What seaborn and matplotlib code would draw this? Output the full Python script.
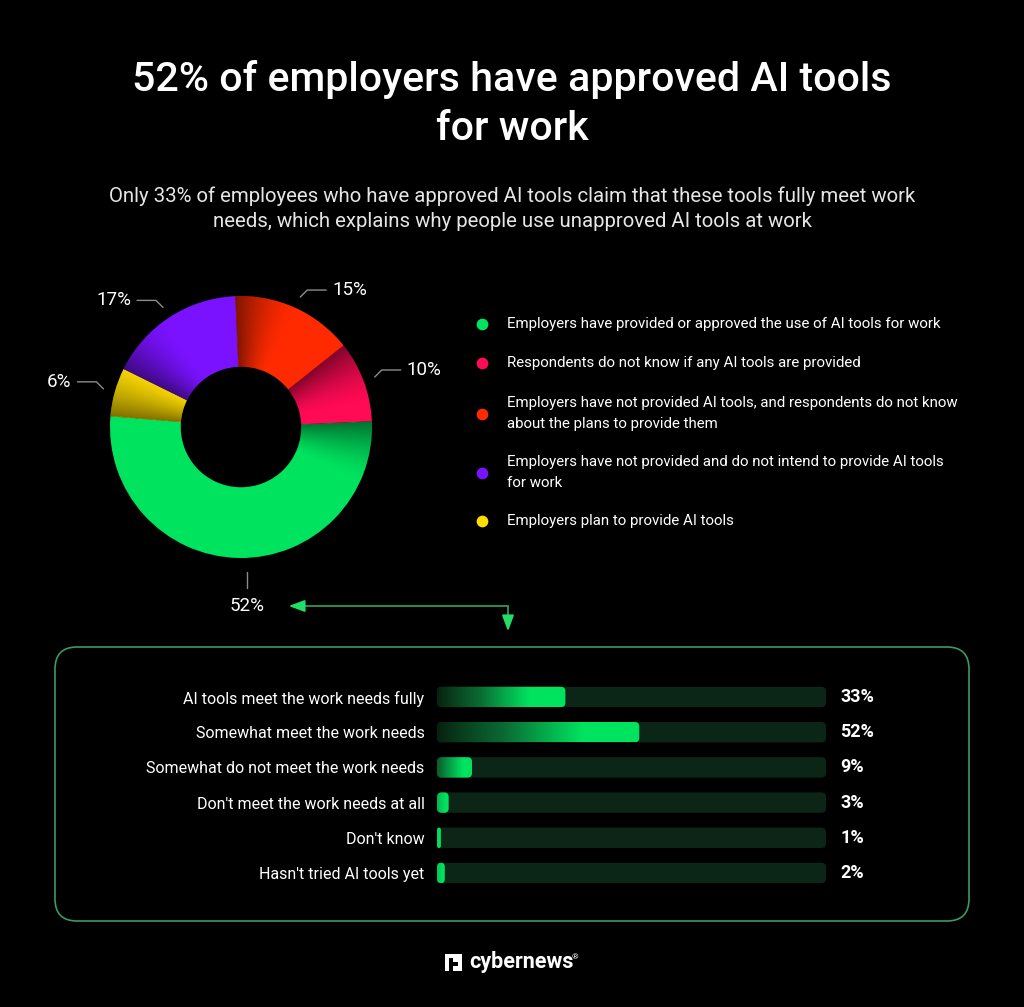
import numpy as np
import matplotlib
matplotlib.use("Agg")
import matplotlib.pyplot as plt
import seaborn as sns
from matplotlib.patches import FancyBboxPatch
from matplotlib.colors import LinearSegmentedColormap

# ---------------- data ----------------
title = "52% of employers have approved AI tools\nfor work"
subtitle = ("Only 33% of employees who have approved AI tools claim that these tools fully meet work\n"
            "needs, which explains why people use unapproved AI tools at work")

pie_labels = [
    "Employers have provided or approved the use of AI tools for work",
    "Employers plan to provide AI tools",
    "Employers have not provided and do not intend to provide AI tools\nfor work",
    "Employers have not provided AI tools, and respondents do not know\nabout the plans to provide them",
    "Respondents do not know if any AI tools are provided",
]
pie_values = [52, 6, 17, 15, 10]
pie_colors = ["#00E35F", "#FFDD00", "#7A12FF", "#FF2A00", "#FF0A55"]

legend_order = [0, 4, 3, 2, 1]

bar_labels = [
    "AI tools meet the work needs fully",
    "Somewhat meet the work needs",
    "Somewhat do not meet the work needs",
    "Don't meet the work needs at all",
    "Don't know",
    "Hasn't tried AI tools yet",
]
bar_values = [33, 52, 9, 3, 1, 2]

# ---------------- figure ----------------
sns.set_theme(style="dark")
plt.rcParams["font.family"] = ["Roboto", "DejaVu Sans"]
W, H = 1024, 1007
fig = plt.figure(figsize=(W / 100, H / 100), dpi=100, facecolor="black")

# overlay axes in pixel coordinates
ov = fig.add_axes([0, 0, 1, 1], zorder=0)
ov.set_xlim(0, W)
ov.set_ylim(H, 0)
ov.axis("off")
ov.patch.set_alpha(0)

ov.text(512, 104, title, ha="center", va="center", color="white",
        fontsize=29.6, fontweight="medium", linespacing=1.38)
ov.text(512, 208.5, subtitle, ha="center", va="center", color="#E6E6E6",
        fontsize=14.7, linespacing=1.42)

# ---------------- donut ----------------
cx, cy, R = 241, 427, 131
half = 150
pax = fig.add_axes([(cx - half) / W, (H - cy - half) / H, 2 * half / W, 2 * half / H], zorder=2)
wedges, _ = pax.pie(pie_values, colors=pie_colors, startangle=2.5, counterclock=False,
                    radius=1, wedgeprops=dict(width=0.54, linewidth=0))
lim = half / R
pax.set_xlim(-lim, lim)
pax.set_ylim(-lim, lim)
pax.set_aspect("equal")
pax.axis("off")
pax.patch.set_alpha(0)

# shading along the start edge of each wedge
n = 500
gx, gy = np.meshgrid(np.linspace(-1, 1, n), np.linspace(1, -1, n))
ang = np.degrees(np.arctan2(gy, gx))
for w in wedges:
    d = (w.theta2 - ang) % 360
    alpha = np.clip(1 - d / 28.0, 0, 1) ** 1.6 * 0.5
    rgba = np.zeros((n, n, 4))
    rgba[..., 3] = alpha
    im = pax.imshow(rgba, extent=(-1, 1, -1, 1), zorder=3, interpolation="bilinear")
    im.set_clip_path(w)

line_col = "#8C8C8C"
u = 1.0 / R
for w, v in zip(wedges, pie_values):
    mid = np.deg2rad((w.theta1 + w.theta2) / 2)
    c, s = np.cos(mid), np.sin(mid)
    if abs(c) < 0.25:
        pax.plot([6 * u, 6 * u], [-145 * u, -161 * u], color=line_col, lw=1, clip_on=False)
        pax.text(6 * u, -179 * u, f"{v}%", ha="center", va="center", color="white",
                 fontsize=13.5, clip_on=False)
    else:
        sign = 1 if c > 0 else -1
        p0 = np.array([1.09 * c, 1.09 * s])
        p1 = p0 + np.array([sign * 7 * u, 7 * u])
        p2 = p1 + np.array([sign * 19 * u, 0])
        pax.plot([p0[0], p1[0], p2[0]], [p0[1], p1[1], p2[1]], color=line_col, lw=1,
                 clip_on=False)
        pax.text(p2[0] + sign * 6 * u, p2[1], f"{v}%", ha="left" if sign > 0 else "right",
                 va="center", color="white", fontsize=13.5, clip_on=False)

# ---------------- legend ----------------
leg_y = [324, 363, 413.5, 472.5, 521]
for yy, idx in zip(leg_y, legend_order):
    ov.scatter([482], [yy], s=55, color=pie_colors[idx], zorder=3)
    ov.text(507, yy, pie_labels[idx], ha="left", va="center", color="white",
            fontsize=10.8, linespacing=1.72)

# ---------------- arrows ----------------
arrow_line = "#2F9657"
arrow_head = "#22DD66"
ov.plot([508, 508], [606, 620], color=arrow_line, lw=1.3)
ov.plot([300, 508], [606, 606], color=arrow_line, lw=1.3)
ov.annotate("", xy=(286, 606), xytext=(302, 606),
            arrowprops=dict(arrowstyle="-|>,head_length=0.8,head_width=0.3", color=arrow_head, lw=1.3))
ov.annotate("", xy=(508, 634), xytext=(508, 618),
            arrowprops=dict(arrowstyle="-|>,head_length=0.8,head_width=0.3", color=arrow_head, lw=1.3))

# ---------------- box ----------------
box = FancyBboxPatch((55, 647), 914, 274, boxstyle="round,pad=0,rounding_size=22",
                     facecolor="none", edgecolor="#3C9A5F", lw=1.2)
ov.add_patch(box)

# ---------------- bars ----------------
step = 35.2
bx0, bx1 = 437, 826
top = 697.0 - step / 2
nb = len(bar_labels)
bax = fig.add_axes([bx0 / W, (H - (top + nb * step)) / H, (bx1 - bx0) / W, nb * step / H], zorder=3)
bax.patch.set_alpha(0)
bar_h = 0.58

# track
sns.barplot(x=[100] * nb, y=bar_labels, orient="h", color="#0B2616", width=bar_h,
            ax=bax, saturation=1)
nt = len(bax.patches)
sns.barplot(x=bar_values, y=bar_labels, orient="h", color="#00E35F", width=bar_h,
            ax=bax, saturation=1)
bax.set_xlim(0, 100)
bax.set_ylim(nb - 0.5, -0.5)

px_per_x = (bx1 - bx0) / 100
px_per_y = step
rad_px = 4.5
cmap = LinearSegmentedColormap.from_list("g", ["#07200F", "#0A6B33", "#00E35F"])

patches = list(bax.patches)
for i, p in enumerate(patches):
    x, y = p.get_x(), p.get_y()
    w, h = p.get_width(), p.get_height()
    rs = min(rad_px / px_per_x, w / 2)
    fb = FancyBboxPatch((x, y), w, h, boxstyle=f"round,pad=0,rounding_size={rs}",
                        mutation_aspect=px_per_x / px_per_y, linewidth=0,
                        facecolor=p.get_facecolor() if i < nt else "none")
    p.set_visible(False)
    bax.add_patch(fb)
    if i >= nt:
        val = w
        frac = min(1.0, val / 15.0)
        grad = np.linspace(0, 1, 512)
        start = 1 - frac
        g = start + (1 - start) * np.clip(grad / 0.72, 0, 1) ** 0.9
        im = bax.imshow(g[np.newaxis, :], cmap=cmap, vmin=0, vmax=1, aspect="auto",
                        extent=(x, x + w, y + h, y), zorder=3, interpolation="bilinear")
        im.set_clip_path(fb)

bax.set_xlabel("")
bax.set_ylabel("")
bax.set_xticks([])
bax.tick_params(axis="y", length=0, pad=9, labelsize=11.5, labelcolor="white")
for sp in bax.spines.values():
    sp.set_visible(False)
bax.grid(False)

for i, v in enumerate(bar_values):
    bax.text(103.6, i, f"{v}%", ha="left", va="center", color="white",
             fontsize=13, fontweight="bold", clip_on=False)

# ---------------- logo ----------------
ov.add_patch(FancyBboxPatch((445, 954), 17, 17, boxstyle="square,pad=0", facecolor="white", lw=0))
ov.add_patch(FancyBboxPatch((449, 958), 4, 13, boxstyle="square,pad=0", facecolor="black", lw=0))
ov.add_patch(FancyBboxPatch((453, 962), 5, 4, boxstyle="square,pad=0", facecolor="black", lw=0))
ov.text(469, 962, "cybernews", ha="left", va="center", color="white", fontsize=15.5,
        fontweight="bold")
ov.text(572, 957, "®", ha="left", va="center", color="white", fontsize=6)

fig.savefig("out.png", dpi=100, facecolor="black")
